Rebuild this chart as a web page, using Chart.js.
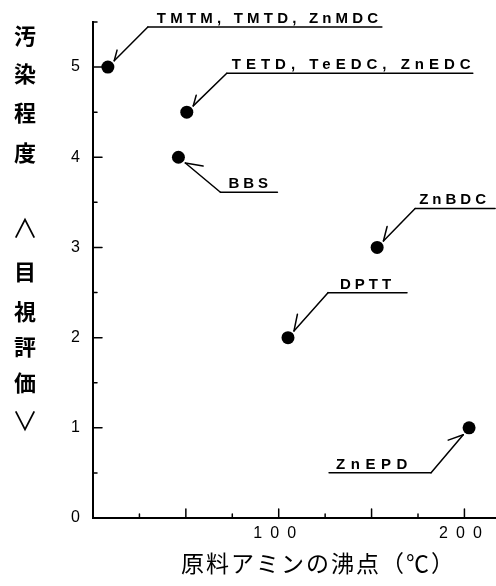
<!DOCTYPE html>
<html>
<head>
<meta charset="utf-8">
<script src="https://cdn.jsdelivr.net/npm/chart.js@4.4.1/dist/chart.umd.min.js"></script>
<style>
html, body { margin: 0; padding: 0; background: #fff; }
canvas { display: block; }
</style>
</head>
<body>
<canvas id="chart" width="496" height="586"></canvas>
<script>
// data
const compounds = ['TMTM, TMTD, ZnMDC', 'TETD, TeEDC, ZnEDC', 'BBS', 'ZnBDC', 'DPTT', 'ZnEPD'];
const boilingPoints = [8, 50.5, 46, 153, 105, 202.5];
const stainGrades = [5, 4.5, 4, 3, 2, 1];
const xTickLabels = [100, 200];
const yTickLabels = [0, 1, 2, 3, 4, 5];
const yTitle = ['汚', '染', '程', '度', '∧', '目', '視', '評', '価', '∨'];
const xTitle = '原料アミンの沸点（℃）';

// callout geometry, pixels relative to each point
const callouts = [
    { elbow: [40, -40], len: 234, inset: 9, dir: 1, barb: 11, sp: 4.2 },
    { elbow: [40, -39], len: 246, inset: 5, dir: 1, barb: 11, sp: 5 },
    { elbow: [42, 35], len: 57, inset: 8, dir: 1, barb: 18, sp: 4 },
    { elbow: [38, -39], len: 80, inset: 4, dir: 1, barb: 15, sp: 4 },
    { elbow: [40, -45], len: 79, inset: 12, dir: 1, barb: 17, sp: 4 },
    { elbow: [-38, 45], len: 102, inset: 7, dir: -1, barb: 16, sp: 5.5 }
];
const yTitlePos = [36, 74, 113, 153, 228, 272, 312, 347, 383, 421];

function seg(ctx, x1, y1, x2, y2) {
    ctx.beginPath();
    ctx.moveTo(x1, y1);
    ctx.lineTo(x2, y2);
    ctx.stroke();
}

const spacingPlugin = {
    id: 'spacing',
    beforeDraw(chart) {
        chart.ctx.letterSpacing = '8px';
    },
    afterDraw(chart) {
        chart.ctx.letterSpacing = '0px';
    }
};

const inkPlugin = {
    id: 'ink',
    afterDraw(chart) {
        const { ctx, chartArea } = chart;
        const xs = chart.scales.x, ys = chart.scales.y;
        ctx.save();
        ctx.letterSpacing = '0px';
        ctx.strokeStyle = '#000';
        ctx.fillStyle = '#000';
        ctx.lineCap = 'round';

        // inward tick marks
        ctx.lineWidth = 1.5;
        xs.ticks.forEach(t => {
            if (t.value <= 0 || t.value % 25 !== 0) return;
            const px = xs.getPixelForValue(t.value);
            const len = t.value % 50 === 0 ? 9 : 4;
            seg(ctx, px, chartArea.bottom, px, chartArea.bottom - len);
        });
        ys.ticks.forEach(t => {
            if (t.value <= 0) return;
            const py = ys.getPixelForValue(t.value);
            const len = t.value % 1 === 0 ? 9 : 4;
            seg(ctx, chartArea.left, py, chartArea.left + len, py);
        });

        // callouts
        const meta = chart.getDatasetMeta(0);
        ctx.font = 'bold 15px "Liberation Sans", Arial, sans-serif';
        ctx.textAlign = 'left';
        ctx.textBaseline = 'alphabetic';
        meta.data.forEach((pt, i) => {
            const c = callouts[i];
            const ex = pt.x + c.elbow[0], ey = pt.y + c.elbow[1];
            const ang = Math.atan2(c.elbow[1], c.elbow[0]);
            const sx = pt.x + Math.cos(ang) * 9, sy = pt.y + Math.sin(ang) * 9;
            ctx.lineWidth = 1.5;
            seg(ctx, sx, sy, ex, ey);
            const endX = ex + c.dir * c.len;
            seg(ctx, ex, ey, endX, ey);
            const ba = ang - c.dir * Math.PI / 6;
            seg(ctx, sx, sy, sx + Math.cos(ba) * c.barb, sy + Math.sin(ba) * c.barb);
            ctx.letterSpacing = c.sp + 'px';
            const tx = c.dir > 0 ? ex + c.inset : endX + c.inset;
            ctx.fillText(compounds[i], tx, ey - 4);
            ctx.letterSpacing = '0px';
        });

        // axis titles
        ctx.textAlign = 'center';
        ctx.textBaseline = 'middle';
        yTitle.forEach((ch, i) => {
            const bracket = ch === '∧' || ch === '∨';
            ctx.font = bracket ? '26px "Noto Sans CJK JP", sans-serif' : 'bold 22px "Noto Sans CJK JP", sans-serif';
            ctx.fillText(ch, 25, yTitlePos[i]);
        });

        ctx.font = '23px "Noto Sans CJK JP", sans-serif';
        ctx.textAlign = 'left';
        ctx.letterSpacing = '2px';
        ctx.fillText(xTitle, 181, 563);
        ctx.restore();
    }
};

const ctx = document.getElementById('chart').getContext('2d');
new Chart(ctx, {
    type: 'scatter',
    data: {
        labels: compounds,
        datasets: [{
            data: boilingPoints.map((b, i) => ({ x: b, y: stainGrades[i] })),
            pointRadius: 6.5,
            pointBackgroundColor: '#000',
            pointBorderWidth: 0,
            pointHoverRadius: 6.5,
            clip: false
        }]
    },
    options: {
        responsive: false,
        animation: false,
        devicePixelRatio: 1,
        layout: { autoPadding: false, padding: { top: 22, right: 0, left: 0, bottom: 0 } },
        plugins: { legend: { display: false }, tooltip: { enabled: false } },
        scales: {
            x: {
                type: 'linear',
                min: 0,
                max: 217,
                grid: { display: false, drawTicks: false },
                border: { display: true, color: '#000', width: 2 },
                ticks: {
                    stepSize: 25,
                    includeBounds: false,
                    autoSkip: false,
                    maxRotation: 0,
                    padding: 6,
                    color: '#000',
                    font: { family: '"Liberation Sans", Arial, sans-serif', size: 16 },
                    callback: v => xTickLabels.includes(v) ? String(v) : ''
                },
                afterFit: s => {
                    s.height = 68;
                    s.paddingLeft = 0;
                    s.paddingRight = 0;
                }
            },
            y: {
                type: 'linear',
                min: 0,
                max: 5.5,
                grid: { display: false, drawTicks: false },
                border: { display: true, color: '#000', width: 2 },
                ticks: {
                    stepSize: 0.5,
                    autoSkip: false,
                    padding: 5,
                    color: '#000',
                    font: { family: '"Liberation Sans", Arial, sans-serif', size: 16 },
                    callback: v => yTickLabels.includes(v) ? String(v) : ''
                },
                afterFit: s => {
                    s.width = 93;
                    s.paddingTop = 0;
                    s.paddingBottom = 0;
                }
            }
        }
    },
    plugins: [spacingPlugin, inkPlugin]
});
</script>
</body>
</html>
